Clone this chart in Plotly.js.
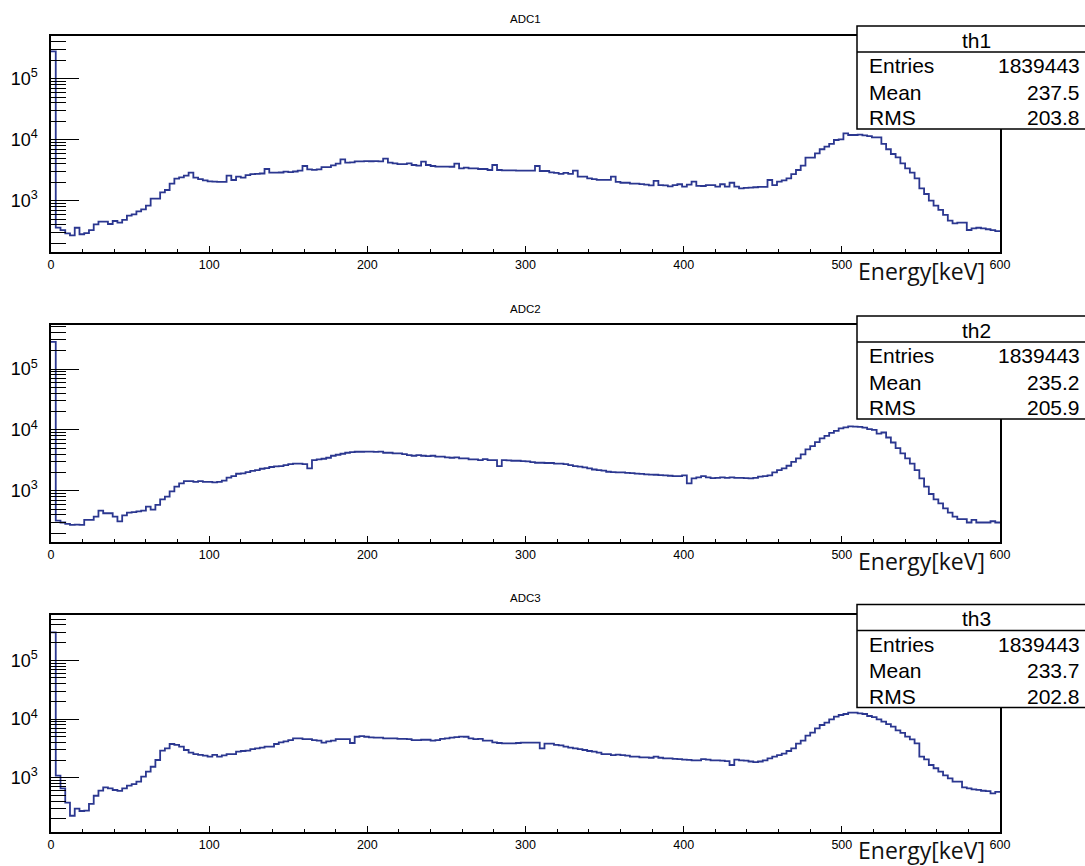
<!DOCTYPE html>
<html>
<head>
<meta charset="utf-8">
<script src="https://cdn.plot.ly/plotly-3.0.1.min.js"></script>
<style>html,body{margin:0;padding:0;background:#fff;}#chart{width:1085px;height:866px;}</style>
</head>
<body>
<div id="chart"></div>
<script>
// Histogram settings: 200 bins from 0 to 600 keV
const xMin = 0, xMax = 600;
const xTickVals = [0, 100, 200, 300, 400, 500, 600];
const xTickText = ["0", "100", "200", "300", "400", "500", "600"];
const yTickVals = [1e3, 1e4, 1e5];
const yTickText = ["10<sup>3</sup>", "10<sup>4</sup>", "10<sup>5</sup>"];
const histTitles = ["ADC1", "ADC2", "ADC3"];
const statNames = ["th1", "th2", "th3"];
const statEntries = ["1839443", "1839443", "1839443"];
const statMean = ["237.5", "235.2", "233.7"];
const statRMS = ["203.8", "205.9", "202.8"];
const xLabel = "Energy[keV]";

const adc1 = [280000,
 361,330,292,270,360,282,295,330,410,453,
 453,415,465,436,483,569,598,670,722,828,
 1080,1080,1372,1496,1900,2294,2417,2570,2877,2382,
 2265,2157,2078,2060,2040,2040,2570,2183,2478,2382,
 2630,2735,2760,2790,3310,2877,2877,2900,2987,2950,
 3010,3104,3706,3268,3210,3268,3563,3563,3800,4047,
 4775,4207,4250,4425,4400,4450,4430,4450,4420,4890,
 4207,4100,3990,3990,4100,3850,3750,4370,3850,3706,
 3630,3630,3630,3600,4040,3400,3480,3400,3380,3310,
 3310,3184,3850,3184,3150,3150,3150,3120,3120,3100,
 3100,3706,3070,3070,2917,2850,2760,2850,2760,3104,
 2478,2478,2330,2265,2200,2200,2200,2478,2030,1970,
 1970,1910,1910,1870,1830,1780,2110,1800,1780,1722,
 1800,1860,1700,1840,2050,1745,1742,1800,1800,1700,
 1860,1700,1970,1700,1596,1620,1640,1660,1680,1680,
 2183,1800,2050,2150,2330,2735,3184,3750,5070,5070,
 5985,6970,7680,8510,9880,10150,12730,11940,11940,12100,
 11800,11480,10940,10940,8510,6970,5830,5140,4100,3400,
 2877,2330,1596,1288,1000,828,705,584,470,426,
 436,436,331,353,360,353,340,330,318];

const adc2 = [280000,
 322,300,285,275,278,275,331,331,375,470,
 426,426,375,314,394,436,446,458,470,547,
 490,584,722,798,977,1163,1320,1442,1442,1400,
 1442,1400,1400,1372,1400,1460,1634,1742,1900,1920,
 2027,2110,2183,2294,2350,2450,2510,2540,2630,2735,
 2790,2790,2735,2330,3184,3268,3350,3480,3750,3900,
 4047,4207,4320,4370,4370,4400,4400,4350,4400,4207,
 4207,4100,4100,3990,3850,3750,3850,3750,3706,3750,
 3630,3630,3540,3480,3540,3400,3400,3268,3268,3184,
 3310,3184,3184,2540,3184,3150,3104,3104,3070,3040,
 2950,2877,2877,2850,2850,2790,2790,2735,2630,2540,
 2478,2417,2330,2230,2183,2130,2050,2027,2000,2000,
 1970,1940,1910,1890,1860,1840,1830,1800,1780,1760,
 1742,1742,1780,1320,1596,1650,1742,1650,1610,1620,
 1650,1620,1650,1620,1620,1610,1596,1620,1700,1742,
 1780,2000,2183,2330,2570,2987,3400,3950,4775,5410,
 6280,7220,7980,8940,9640,10540,11000,11400,11300,11200,
 10900,10250,10000,8700,9040,7480,6200,5000,4100,3400,
 2790,2183,1596,1163,883,722,621,514,436,375,
 340,340,300,331,300,300,300,315,300];

const adc3 = [300000,
 1081,659,375,225,297,271,275,357,493,601,
 685,659,617,597,659,731,775,855,1040,1265,
 1538,2005,2884,3163,3750,3630,3374,2967,2667,2520,
 2450,2370,2280,2450,2280,2400,2520,2520,2773,2850,
 2884,3060,3163,3250,3374,3374,3750,4010,4170,4385,
 4690,4690,4530,4530,4385,4280,3960,4170,4280,4530,
 4530,4530,3900,4990,5130,4990,4850,4800,4800,4690,
 4690,4690,4580,4580,4530,4385,4385,4430,4430,4280,
 4385,4580,4690,4800,4900,5000,4990,4690,4530,4580,
 4280,4280,4010,3900,3850,3850,3850,3900,3960,3960,
 3960,3960,3163,3800,3800,3630,3550,3374,3250,3163,
 3060,2967,2850,2773,2667,2520,2520,2420,2480,2420,
 2370,2280,2280,2220,2220,2190,2280,2190,2130,2130,
 2100,2070,2040,2010,1980,1980,2070,2040,1980,1980,
 1950,1920,1645,2040,1980,1950,1890,1845,1890,1980,
 2130,2280,2420,2570,2850,3163,3800,4270,5200,5850,
 6930,7900,8650,9880,10940,11700,12160,12800,12800,12500,
 12160,11250,10800,9880,9000,8200,7400,6400,5800,5000,
 4500,3850,2280,2050,1645,1450,1266,1100,974,855,
 855,683,660,632,620,600,590,540,575];

const series = [adc1, adc2, adc3];

// Layout geometry (pixels in the 1085x866 page)
const W = 1085, H = 866;
const frameL = 51, frameR = 1000;
const panels = [
  {top: 36,    bottom: 252.3, yr: [2.154, 5.70]},
  {top: 324.7, bottom: 542.3, yr: [2.152, 5.728]},
  {top: 614.7, bottom: 832.3, yr: [2.07, 5.777]}
];
const panelShift = [0, 290, 578.5];

const minorY = [];
[100, 1000, 10000, 100000].forEach(d => { for (let k = 2; k <= 9; k++) minorY.push(k * d); });

const lineColor = "#2b3790";
const fontMain = "Liberation Sans, Arial, Helvetica, sans-serif";

function stepXY(vals) {
  const n = vals.length, w = (xMax - xMin) / n;
  const x = vals.map((_, i) => xMin + i * w);
  x.push(xMax);
  const y = vals.slice();
  y.push(vals[n - 1]);
  return {x, y};
}

const px = v => v / W;
const py = v => 1 - v / H;

const data = [];
const layout = {
  width: W, height: H,
  margin: {l: 0, r: 0, t: 0, b: 0, pad: 0},
  paper_bgcolor: "#ffffff", plot_bgcolor: "#ffffff",
  showlegend: false,
  font: {family: fontMain, color: "#000000"},
  shapes: [], annotations: []
};

series.forEach((vals, i) => {
  const s = stepXY(vals);
  const ax = i === 0 ? "" : String(i + 1);
  data.push({
    type: "scatter", mode: "lines", x: s.x, y: s.y,
    xaxis: "x" + ax, yaxis: "y" + ax,
    line: {shape: "hv", color: lineColor, width: 1.8},
    hoverinfo: "skip"
  });
  const p = panels[i];
  layout["xaxis" + ax] = {
    domain: [px(frameL), px(frameR)], anchor: "y" + ax,
    range: [xMin, xMax], showgrid: false, zeroline: false,
    showline: true, mirror: true, linecolor: "#000", linewidth: 1.6,
    ticks: "inside", ticklen: 6, tickwidth: 1, tickcolor: "#000",
    tickmode: "array", tickvals: xTickVals, ticktext: xTickText,
    tickfont: {size: 12.5, family: fontMain, color: "#000"},
    minor: {dtick: 20, ticks: "inside", ticklen: 3, tickwidth: 1, tickcolor: "#000", showgrid: false}
  };
  layout["yaxis" + ax] = {
    domain: [py(p.bottom), py(p.top)], anchor: "x" + ax,
    type: "log", range: p.yr, showgrid: false, zeroline: false,
    showline: true, mirror: true, linecolor: "#000", linewidth: 1.6,
    ticks: "inside", ticklen: 28, tickwidth: 1, tickcolor: "#000",
    tickmode: "array", tickvals: yTickVals, ticktext: yTickText,
    tickfont: {size: 18, family: fontMain, color: "#000"},
    ticklabelstandoff: 8,
    minor: {tickmode: "array", tickvals: minorY, ticks: "inside", ticklen: 15, tickwidth: 1, tickcolor: "#000", showgrid: false}
  };

  const sh = panelShift[i];
  // title
  layout.annotations.push({xref: "paper", yref: "paper", x: px(525), y: py(19 + sh),
    xanchor: "center", yanchor: "middle", showarrow: false, text: histTitles[i],
    font: {size: 11.5, family: fontMain, color: "#000"}});
  // x label
  layout.annotations.push({xref: "paper", yref: "paper", x: px(987), y: py(271 + sh),
    xanchor: "right", yanchor: "middle", showarrow: false, text: xLabel,
    font: {size: 23, family: "Open Sans, sans-serif", color: "#111"}});
  // stats box
  layout.shapes.push({type: "rect", xref: "paper", yref: "paper", layer: "above",
    x0: px(857), x1: px(1092), y0: py(129 + sh), y1: py(26 + sh),
    line: {color: "#000", width: 1.5}, fillcolor: "#ffffff"});
  layout.shapes.push({type: "line", xref: "paper", yref: "paper", layer: "above",
    x0: px(857), x1: px(1092), y0: py(52 + sh), y1: py(52 + sh),
    line: {color: "#000", width: 1.5}});
  const sf = {size: 21, family: fontMain, color: "#000"};
  layout.annotations.push({xref: "paper", yref: "paper", x: px(976), y: py(40 + sh),
    xanchor: "center", yanchor: "middle", showarrow: false, text: statNames[i], font: sf});
  const rows = [["Entries", statEntries[i], 65.5], ["Mean", statMean[i], 92], ["RMS", statRMS[i], 117.5]];
  rows.forEach(r => {
    layout.annotations.push({xref: "paper", yref: "paper", x: px(867), y: py(r[2] + sh),
      xanchor: "left", yanchor: "middle", showarrow: false, text: r[0], font: sf});
    layout.annotations.push({xref: "paper", yref: "paper", x: px(1082), y: py(r[2] + sh),
      xanchor: "right", yanchor: "middle", showarrow: false, text: r[1], font: sf});
  });
});

Plotly.newPlot("chart", data, layout, {staticPlot: true, displayModeBar: false});
</script>
</body>
</html>
